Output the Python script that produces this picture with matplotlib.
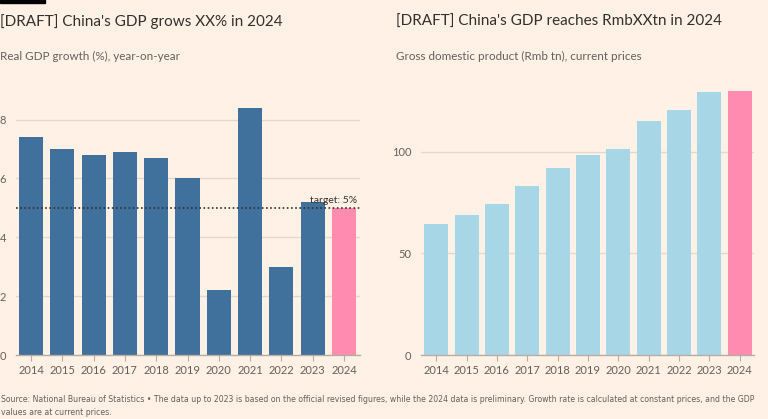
import matplotlib
matplotlib.use("Agg")
import matplotlib.pyplot as plt
import numpy as np

years = ["2014", "2015", "2016", "2017", "2018", "2019", "2020", "2021", "2022", "2023", "2024"]
growth = [7.4, 7.0, 6.8, 6.9, 6.7, 6.0, 2.2, 8.4, 3.0, 5.2, 5.0]
gdp = [64.4, 68.9, 74.4, 83.1, 91.8, 98.5, 101.3, 114.9, 120.3, 129.2, 129.9]
target = 5

bg = "#FFF1E5"
dark_blue = "#40709C"
light_blue = "#A7D7E7"
pink = "#FF8CB0"
grid_c = "#E3D8CF"
text_c = "#33302E"
muted = "#66605C"

plt.rcParams["font.family"] = ["Lato", "DejaVu Sans"]

W, H = 768, 419
fig = plt.figure(figsize=(W / 100, H / 100), dpi=100, facecolor=bg)


def px(x0, y_bottom, x1, y_top):
    return [x0 / W, 1 - y_bottom / H, (x1 - x0) / W, (y_bottom - y_top) / H]


def style(ax):
    ax.set_facecolor(bg)
    for s in ["top", "right", "left"]:
        ax.spines[s].set_visible(False)
    ax.spines["bottom"].set_color("#B8ADA5")
    ax.spines["bottom"].set_linewidth(1)
    ax.yaxis.grid(True, color=grid_c, linewidth=1)
    ax.set_axisbelow(True)
    ax.tick_params(axis="y", length=0, pad=7, labelsize=8, labelcolor=muted)
    ax.tick_params(axis="x", length=4, width=0.8, color="#B8ADA5", pad=3,
                   labelsize=8, labelcolor=muted)


x = np.arange(len(years))
colors_l = [dark_blue] * (len(years) - 1) + [pink]
colors_r = [light_blue] * (len(years) - 1) + [pink]

# left: growth
ax1 = fig.add_axes(px(16, 355, 360, 96))
style(ax1)
ax1.bar(x, growth, width=0.77, color=colors_l, zorder=2)
ax1.set_xlim(-0.48, 10.51)
ax1.set_ylim(0, 8.8)
ax1.set_yticks([0, 2, 4, 6, 8])
ax1.set_xticks(x)
ax1.set_xticklabels(years)
ax1.axhline(target, color=text_c, linestyle=(0, (1, 1.5)), linewidth=1.2, zorder=3)
ax1.text(10.42, target + 0.08, "target: 5%", ha="right", va="bottom",
         fontsize=7.5, color=text_c, zorder=4)

# right: gdp level
ax2 = fig.add_axes(px(421, 355, 754, 80.5))
style(ax2)
ax2.bar(x, gdp, width=0.79, color=colors_r, zorder=2)
ax2.set_xlim(-0.5, 10.47)
ax2.set_ylim(0, 135)
ax2.set_yticks([0, 50, 100])
ax2.set_xticks(x)
ax2.set_xticklabels(years)

# titles
fig.text(0 / W, 1 - 22 / H, "[DRAFT] China's GDP grows XX% in 2024", fontsize=11,
         color=text_c, va="center", ha="left")
fig.text(0 / W, 1 - 56 / H, "Real GDP growth (%), year-on-year", fontsize=8.4,
         color=muted, va="center", ha="left")
fig.text(396 / W, 1 - 22 / H, "[DRAFT] China's GDP reaches RmbXXtn in 2024", fontsize=11,
         color=text_c, va="center", ha="left")
fig.text(396 / W, 1 - 56 / H, "Gross domestic product (Rmb tn), current prices", fontsize=8.4,
         color=muted, va="center", ha="left")

# FT style black strip
fig.patches.append(plt.Rectangle((0, 1 - 3 / H), 45 / W, 3 / H, transform=fig.transFigure,
                                 color="black", zorder=5))

# source
src = ("Source: National Bureau of Statistics \u2022 The data up to 2023 is based on the official revised "
       "figures, while the 2024 data is preliminary. Growth rate is calculated at constant prices, and the GDP\n"
       "values are at current prices.")
fig.text(1 / W, 1 - 406 / H, src, fontsize=5.6, color=muted, va="center", ha="left",
         family=["Liberation Sans Narrow", "DejaVu Sans"], linespacing=1.5)

fig.savefig("out.png", dpi=100, facecolor=bg)
